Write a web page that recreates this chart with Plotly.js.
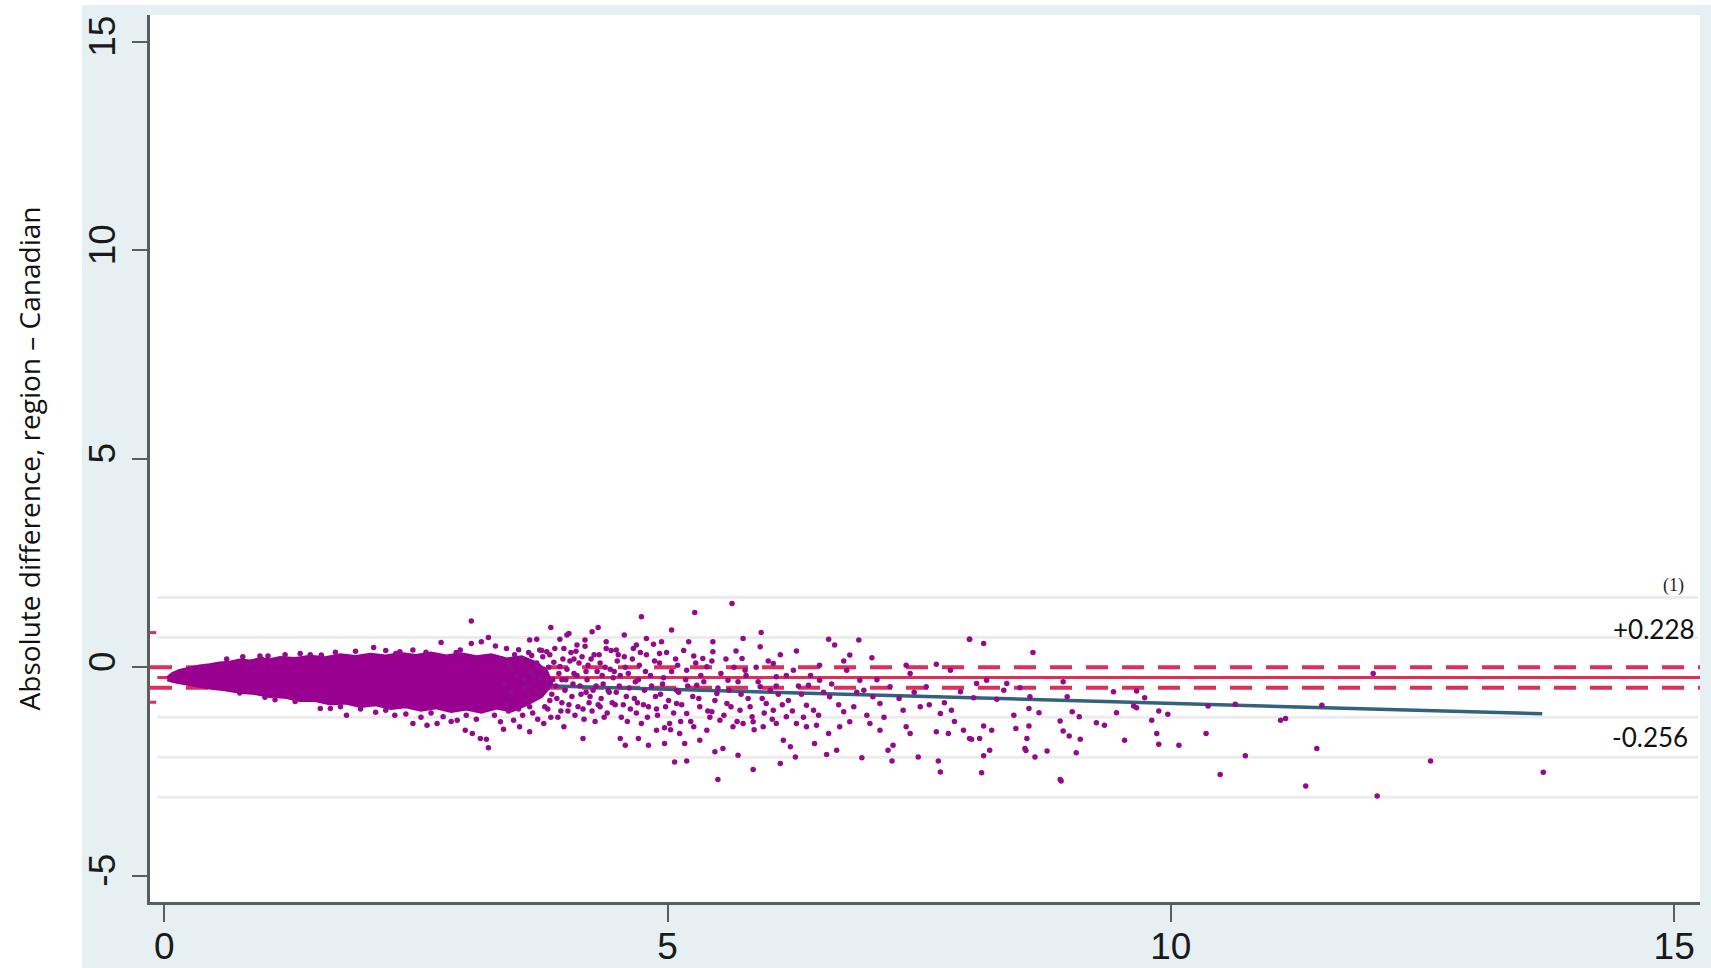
<!DOCTYPE html>
<html>
<head>
<meta charset="utf-8">
<script src="https://cdn.plot.ly/plotly-3.0.1.min.js"></script>
<style>html,body{margin:0;padding:0;background:#fff;}#chart{width:1711px;height:968px;}</style>
</head>
<body>
<div id="chart"></div>
<script>
// ---------- data ----------
const xTickVals = [0, 5, 10, 15];
const yTickVals = [-5, 0, 5, 10, 15];
const yTitle = 'Absolute difference, region \u2013 Canadian';

// reference levels
const meanDiff = -0.245;
const upperDashed = 0.0;
const lowerDashed = -0.49;
const greyLevels = [1.67, 0.71, -1.2, -2.16, -3.12];
const leftRedMarks = [0.83, -0.84];

// fitted trend line (end points)
const fitX = [0.3, 13.69];
const fitY = [-0.21, -1.116];

// labels on the right
const labelPanel = '(1)';
const labelUpper = '+0.228';
const labelLower = '-0.256';

// envelope of the dense core of the cloud (upper edge, tip, lower edge back)
const coreX = [0.03, 0.08, 0.15, 0.25, 0.35, 0.45, 0.55, 0.65, 0.75, 0.85, 0.95, 1.05, 1.15, 1.3, 1.45, 1.6, 1.75, 1.9,
               2.05, 2.2, 2.35, 2.5, 2.65, 2.8, 2.95, 3.1, 3.25, 3.4, 3.55, 3.7, 3.8, 3.85, 3.75,
               3.6, 3.45, 3.3, 3.15, 3.0, 2.85, 2.7, 2.55, 2.4, 2.25, 2.1, 1.95, 1.8, 1.65, 1.5, 1.35, 1.2,
               1.05, 0.9, 0.75, 0.6, 0.45, 0.3, 0.2, 0.1, 0.03];
const coreY = [-0.25, -0.15, -0.08, -0.02, 0.03, 0.06, 0.1, 0.12, 0.17, 0.15, 0.2, 0.18, 0.23, 0.21, 0.26, 0.23, 0.3, 0.26,
               0.31, 0.27, 0.33, 0.28, 0.34, 0.27, 0.32, 0.25, 0.3, 0.2, 0.25, 0.1, -0.1, -0.4, -0.7,
               -0.9, -1.05, -0.98, -1.08, -1.0, -1.06, -0.97, -1.03, -0.95, -0.99, -0.9, -0.94, -0.86, -0.88, -0.8, -0.8, -0.72,
               -0.7, -0.63, -0.6, -0.54, -0.5, -0.44, -0.4, -0.35, -0.3];

// individual points around the core edges
const fringePts = [
 [0.62,0.2],[0.78,0.25],[0.95,0.27],[1.03,0.27],[0.97,0.19],[1.2,0.3],[1.35,0.33],[1.56,0.29],[1.7,0.36],[1.9,0.38],
 [2.08,0.47],[2.2,0.4],[2.34,0.37],[2.47,0.41],[2.6,0.36],[2.75,0.59],[2.94,0.41],[3.05,0.57],[3.05,1.11],[3.15,0.61],
 [3.22,0.71],[3.29,0.51],[3.4,0.45],[3.63,0.65],[3.70,0.67],[3.73,0.41],[3.80,0.37],[3.84,0.95],[3.93,0.67],[4.0,0.77],
 [0.75,-0.62],[1.0,-0.72],[1.3,-0.82],[1.55,-0.99],[1.65,-0.99],[1.81,-1.15],[1.95,-1.0],[2.1,-1.08],[2.29,-1.15],[2.4,-1.12],
 [2.47,-1.35],[2.61,-1.39],[2.71,-1.35],[2.77,-1.19],[2.91,-1.27],[2.99,-1.51],[3.06,-1.59],[3.14,-1.71],[3.20,-1.73],[3.22,-1.93],
 [3.34,-1.31],[3.37,-1.49],[3.47,-1.27],[3.53,-1.43],[3.63,-1.55],[3.77,-1.35],[3.97,-1.43],[2.55,-1.2],[2.85,-1.3],[3.1,-1.25],
 [3.28,-1.15],[3.42,-1.05],[2.3,0.33],[2.9,0.35],[1.45,0.3],[1.1,-0.78],[1.75,-0.95],[2.2,-1.03],[2.65,-1.1],[3.0,-1.15]
];

// dense but broken-up part of the cloud, x 3.3 to 6.4
const densePts = [
 [3.35,0.2],[3.38,-0.4],[3.4,-0.9],[3.42,0.05],[3.45,-0.6],[3.48,0.3],[3.5,-0.2],[3.52,-1.0],[3.55,0.15],[3.57,-0.5],
 [3.6,-0.8],[3.62,0.35],[3.64,-0.1],[3.66,-1.1],[3.68,-0.35],[3.7,0.1],[3.72,-0.7],[3.74,-0.25],[3.76,0.25],[3.78,-0.95],
 [3.8,-0.5],[3.82,0.0],[3.84,-1.2],[3.86,-0.3],[3.88,0.45],[3.9,-0.75],[3.92,-0.15],[3.94,-1.05],[3.96,0.2],[3.98,-0.55],
 [4.0,-0.05],[4.02,-0.9],[4.04,0.35],[4.06,-0.4],[4.08,-1.15],[4.1,-0.2],[4.12,0.1],[4.14,-0.65],[4.16,-1.0],[4.18,0.5],
 [4.2,-0.3],[4.22,-0.85],[4.24,0.2],[4.26,-0.55],[4.28,-1.3],[4.3,-0.1],[4.32,0.3],[4.34,-0.75],[4.36,-0.4],[4.38,0.0],
 [4.4,-1.1],[4.42,-0.6],[4.44,0.4],[4.46,-0.25],[4.48,-0.9],[4.5,0.15],[4.52,-0.45],[4.54,-1.2],[4.57,0.25],[4.59,-0.7],
 [4.61,-0.15],[4.63,-1.0],[4.66,0.45],[4.68,-0.35],[4.7,-0.85],[4.72,0.05],[4.74,-1.35],[4.77,-0.55],[4.79,0.3],[4.81,-0.95],
 [4.83,-0.2],[4.86,0.55],[4.88,-0.7],[4.9,-1.15],[4.92,0.1],[4.95,-0.4],[4.97,-1.45],[4.99,0.35],[5.01,-0.8],[5.04,-0.1],
 [5.06,-1.1],[5.08,0.2],[5.11,-0.6],[5.13,-1.3],[5.16,0.4],[5.18,-0.3],[5.25,-0.7],[5.33,-0.2],[5.42,-1.2],[5.5,-0.5],
 [5.58,0.2],[5.63,-0.95],[5.7,-0.35],[5.8,-0.75],[5.88,0.0],[5.96,-1.1],[6.02,-0.55],[6.12,0.3],[6.2,-0.8],[6.3,-0.45],
 [6.35,-1.2],[3.45,-0.05],[3.58,-0.3],[3.69,-0.55],[3.83,-0.8],[3.95,-0.3],[4.07,0.2],[4.19,-0.6],[4.33,-0.95],[4.47,-0.1]
];

// more of the dense part, x 3.5 to 5.0
const densePts2 = [
 [3.52,0.42],[3.56,-1.15],[3.59,0.05],[3.61,-0.45],[3.63,-0.95],[3.65,0.28],[3.67,-0.2],[3.71,-1.25],[3.73,-0.6],[3.75,0.4],
 [3.77,-0.05],[3.79,-0.4],[3.81,-1.0],[3.83,0.3],[3.85,-0.65],[3.87,0.12],[3.89,-0.45],[3.91,-1.2],[3.93,0.02],[3.95,-0.85],
 [3.97,0.45],[3.99,-0.3],[4.01,-1.05],[4.03,0.15],[4.05,-0.7],[4.07,-0.15],[4.09,0.38],[4.11,-0.95],[4.13,-0.45],[4.15,0.25],
 [4.17,-1.25],[4.19,-0.1],[4.21,0.05],[4.23,-0.7],[4.25,-1.05],[4.27,0.3],[4.29,-0.45],[4.31,-0.9],[4.33,0.1],[4.35,-0.2],
 [4.37,-1.2],[4.39,0.45],[4.41,-0.55],[4.43,-0.05],[4.45,-0.85],[4.49,-0.6],[4.51,0.3],[4.53,-0.2],[4.56,-0.9],[4.58,0.0],
 [4.6,-1.3],[4.62,-0.5],[4.65,0.2],[4.67,-0.75],[4.69,-1.1],[4.71,-0.3],[4.73,0.35],[4.76,-0.9],[4.78,-0.1],[4.8,-1.2],
 [4.84,-0.45],[4.87,0.15],[4.89,-1.0],[4.93,-0.65],[4.96,-0.25],[4.98,-0.95]
];

// scattered points, x 4 to 8
const midPts = [
 [5.64,1.53],[5.27,1.31],[4.74,1.21],[5.04,0.89],[5.93,0.83],[4.31,0.95],[4.25,0.85],[4.02,0.81],[4.79,0.69],[4.57,0.77],
 [5.75,0.69],[6.60,0.67],[6.90,0.65],[8.0,0.67],[5.21,0.61],[5.45,0.61],[5.92,0.49],[6.28,0.39],[6.66,0.53],[5.68,0.39],
 [4.18,0.65],[4.39,0.61],[4.94,0.61],[7.03,0.23],[6.75,0.15],[6.81,0.29],[7.67,0.07],[7.37,0.05],[6.51,0.05],[6.05,0.09],
 [5.74,0.21],[5.26,0.27],[5.35,0.21],[5.45,0.37],[4.69,0.53],[4.92,0.33],[4.10,0.53],[4.49,0.41],
 [5.50,-2.69],[5.07,-2.27],[5.19,-2.25],[5.85,-2.45],[6.12,-2.31],[5.70,-2.11],[5.47,-2.03],[5.55,-1.95],[6.27,-2.15],[6.58,-2.09],
 [6.93,-2.17],[7.23,-2.25],[7.49,-2.15],[7.69,-2.25],[7.71,-2.51],[6.68,-1.99],[7.19,-1.99],[7.24,-1.87],[6.46,-1.83],[6.22,-1.91],
 [6.15,-1.75],[5.17,-1.83],[5.32,-1.75],[4.81,-1.87],[4.97,-1.83],[4.58,-1.87],[4.53,-1.71],[4.71,-1.71],[4.16,-1.71],[8.0,-1.71],
 [7.94,-1.51],[7.79,-1.59],[7.67,-1.55],[7.41,-1.59],[7.37,-1.43],[7.11,-1.51],[7.01,-1.35],[6.81,-1.31],[6.71,-1.43],[6.60,-1.59],
 [6.48,-1.39],[6.38,-1.43],[6.28,-1.35],[6.08,-1.35],[5.95,-1.43],[5.85,-1.31],[5.75,-1.35],[5.65,-1.43],[5.52,-1.27],[5.39,-1.51],
 [5.26,-1.43],[5.12,-1.59],[5.02,-1.35],[4.89,-1.51],[7.71,-1.11],[7.82,-1.03],[7.51,-0.95],[7.34,-1.03],[7.11,-0.87],[6.85,-0.95],
 [6.75,-1.07],[6.45,-1.03],[6.38,-0.91],[6.18,-1.19],[6.05,-1.03],[5.98,-0.87],[5.84,-1.19],[5.72,-1.03],[5.59,-0.87],[5.44,-1.07],
 [5.32,-0.95],[5.19,-1.11],[5.09,-0.87],[6.25,-0.07],[6.40,-0.43],[6.61,-0.71],[6.91,-0.31],[7.21,-0.47],[7.41,-0.15],[7.57,-0.47],
 [7.81,-0.07],[8.07,-0.39],[5.92,-0.47],[6.08,-0.23],[5.77,-0.07],[5.60,-0.31],[5.49,-0.63],[5.39,0.01],[5.29,-0.43],[5.19,-0.07],
 [5.09,-0.55],[7.04,-0.71],[6.78,-0.07],[6.51,-0.31],[7.91,-0.59],[6.55,-0.6],[7.3,-0.75],[6.95,-0.55],[7.75,-0.85],[6.1,-0.65]
];

// more scattered points, x 5 to 7.9
const midPts2 = [
 [5.03,-1.5],[5.1,0.05],[5.14,-0.9],[5.2,-0.45],[5.23,-1.3],[5.28,0.1],[5.31,-0.75],[5.36,-0.35],[5.4,-1.05],[5.44,0.15],
 [5.47,-0.8],[5.53,-0.15],[5.56,-1.15],[5.61,-0.55],[5.66,0.0],[5.69,-1.3],[5.73,-0.65],[5.78,-0.2],[5.82,-0.95],[5.86,-1.5],
 [5.9,-0.35],[5.94,-0.75],[6.0,0.15],[6.04,-1.25],[6.08,-0.45],[6.14,-0.9],[6.18,-0.2],[6.24,-1.05],[6.33,-0.65],[6.42,-0.2],
 [6.5,-1.15],[6.63,-0.4],[6.7,-0.9],[6.88,-0.6],[6.98,-1.15],[7.08,-0.3],[7.15,-1.2],[7.45,-0.6],[7.6,-0.9],[7.85,-1.3]
];

// scattered points, x 8 to 14
const farPts = [
 [8.0,0.67],[8.14,0.57],[8.63,0.35],[8.17,-0.31],[8.37,-0.39],[8.50,-0.49],[8.34,-0.55],[8.04,-0.73],[8.27,-0.77],[8.60,-0.71],
 [8.97,-0.71],[9.43,-0.59],[9.66,-0.57],[9.74,-0.73],[9.63,-0.93],[9.66,-0.97],[10.37,-0.93],[10.64,-0.89],[11.50,-0.91],[12.01,-0.15],
 [8.93,-0.35],[8.59,-0.99],[8.69,-1.09],[8.44,-1.15],[9.02,-1.07],[9.09,-1.19],[9.46,-1.09],[9.81,-1.27],[9.88,-1.05],[9.97,-1.13],
 [9.26,-1.33],[9.34,-1.39],[8.90,-1.29],[8.14,-1.41],[8.22,-1.51],[8.46,-1.47],[8.59,-1.41],[11.09,-1.27],[11.14,-1.23],[8.93,-1.53],
 [8.99,-1.65],[9.10,-1.73],[8.02,-1.73],[8.10,-1.71],[8.57,-1.71],[8.20,-1.99],[8.14,-2.12],[8.55,-1.95],[8.65,-2.15],[8.77,-2.01],
 [9.06,-2.05],[9.54,-1.75],[9.86,-1.59],[9.88,-1.85],[10.08,-1.87],[10.35,-1.59],[10.74,-2.12],[11.45,-1.95],[8.12,-2.53],[8.91,-2.73],
 [10.49,-2.57],[11.34,-2.85],[12.05,-3.09],[12.58,-2.25],[13.70,-2.52],[8.56,-2.0],[8.9,-2.69]
];

// ---------- chart ----------
const xMin = -0.142, xMax = 15.257;
const allPts = fringePts.concat(densePts, densePts2, midPts, midPts2, farPts);
const ptColor = '#930a8c';
const redColor = '#de2f5a';

const traces = [];
greyLevels.forEach(v => traces.push({
  x: [-0.07, 15.24], y: [v, v], mode: 'lines', hoverinfo: 'skip',
  line: {color: '#ececec', width: 3}
}));
leftRedMarks.forEach(v => traces.push({
  x: [xMin, -0.08], y: [v, v], mode: 'lines', hoverinfo: 'skip',
  line: {color: redColor, width: 3}
}));
[upperDashed, lowerDashed].forEach(v => traces.push({
  x: [xMin, xMax], y: [v, v], mode: 'lines', hoverinfo: 'skip',
  line: {color: redColor, width: 4, dash: '22px,14px'}
}));
traces.push({x: [-0.07, xMax], y: [meanDiff, meanDiff], mode: 'lines', hoverinfo: 'skip',
  line: {color: redColor, width: 3}});
traces.push({x: fitX, y: fitY, mode: 'lines', hoverinfo: 'skip',
  line: {color: '#34617e', width: 3.5}});
traces.push({x: coreX, y: coreY, mode: 'lines', fill: 'toself', fillcolor: '#990090',
  line: {color: '#990090', width: 3}, hoverinfo: 'skip'});
traces.push({x: allPts.map(p => p[0]), y: allPts.map(p => p[1]), mode: 'markers', hoverinfo: 'skip',
  marker: {color: ptColor, size: 5.5, line: {width: 0}}});

const layout = {
  width: 1711, height: 968,
  margin: {l: 150, r: 11, t: 15, b: 66, pad: 0},
  paper_bgcolor: '#e6eff1',
  plot_bgcolor: '#ffffff',
  showlegend: false,
  xaxis: {
    range: [xMin, xMax], tickvals: xTickVals, ticktext: xTickVals.map(String),
    showgrid: false, zeroline: false, showline: true, linecolor: '#5c5c5c', linewidth: 3,
    ticks: 'outside', ticklen: 17, tickwidth: 2, tickcolor: '#5c5c5c', ticklabelstandoff: -7,
    tickfont: {family: 'Liberation Sans, Arial, sans-serif', size: 37, color: '#1a1a1a'}
  },
  yaxis: {
    range: [-5.63, 15.64], tickvals: yTickVals, ticktext: yTickVals.map(String), tickangle: -90,
    showgrid: false, zeroline: false, showline: true, linecolor: '#5c5c5c', linewidth: 3,
    ticks: 'outside', ticklen: 15, tickwidth: 2, tickcolor: '#5c5c5c', ticklabelstandoff: 2,
    tickfont: {family: 'Liberation Sans, Arial, sans-serif', size: 37, color: '#1a1a1a'},
    title: {text: yTitle, standoff: 34, font: {family: 'Open Sans, sans-serif', size: 28, color: '#111'}}
  },
  shapes: [
    {type: 'rect', xref: 'paper', yref: 'paper', x0: -0.1, x1: -0.0439, y0: -0.1, y1: 1.1,
     fillcolor: '#ffffff', line: {width: 0}, layer: 'below'},
    {type: 'rect', xref: 'paper', yref: 'paper', x0: -0.1, x1: 1.1, y0: 1.0113, y1: 1.1,
     fillcolor: '#ffffff', line: {width: 0}, layer: 'below'}
  ],
  annotations: [
    {x: 14.99, y: 1.97, xref: 'x', yref: 'y', text: labelPanel, showarrow: false,
     font: {family: 'Liberation Serif, Times New Roman, serif', size: 18, color: '#222'}},
    {x: 15.23, y: 0.92, xref: 'x', yref: 'y', text: labelUpper, showarrow: false, xanchor: 'right',
     font: {family: 'Lato, Open Sans, sans-serif', size: 26, color: '#111'}},
    {x: 15.16, y: -1.67, xref: 'x', yref: 'y', text: labelLower, showarrow: false, xanchor: 'right',
     font: {family: 'Lato, Open Sans, sans-serif', size: 26, color: '#111'}}
  ]
};

Plotly.newPlot('chart', traces, layout, {displayModeBar: false, staticPlot: true});
</script>
</body>
</html>
